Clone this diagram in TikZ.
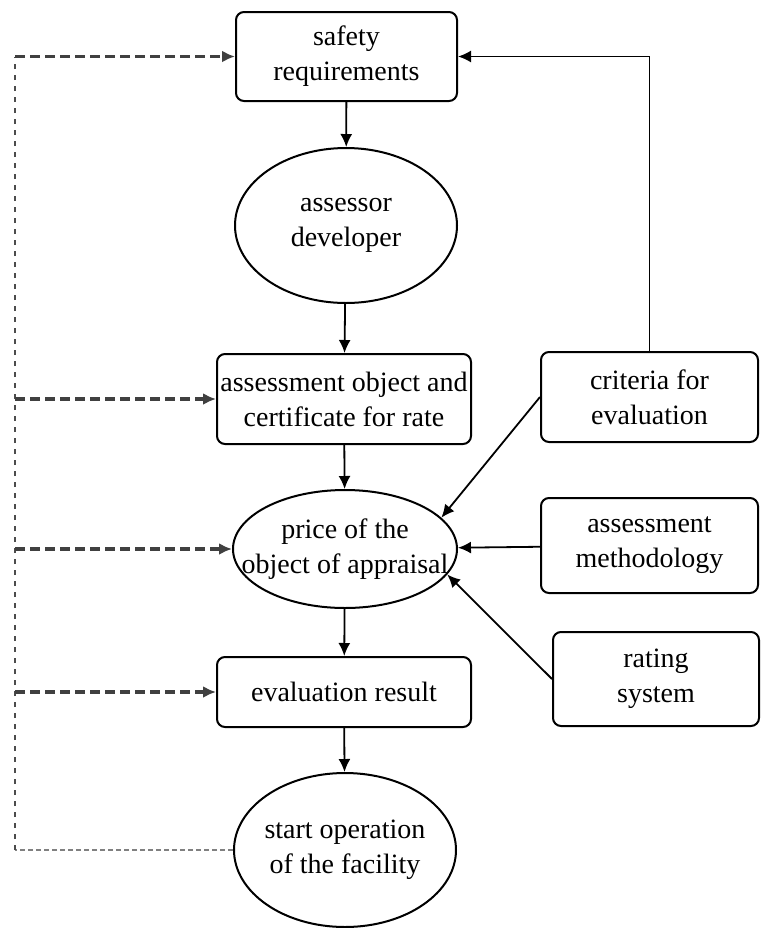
\documentclass[tikz,border=0pt]{standalone}
\usepackage{fontspec}
\setmainfont{Liberation Serif}
\usetikzlibrary{shapes.geometric,arrows.meta}

\tikzset{
  box/.style={rectangle, rounded corners=4pt, inner sep=0pt},
  oval/.style={ellipse, inner sep=-40pt},
  loopline/.style={dash pattern=on 2.5pt off 3pt, line width=0.9pt, draw=black!70},
  looparrow/.style={->, dash pattern=on 5pt off 2.5pt, line width=1.8pt, draw=black!75},
}

\begin{document}
\begin{tikzpicture}[x=0.5pt, y=-0.5pt, >={Latex[length=6.5pt,width=6pt]}]
  \useasboundingbox (0,0) rectangle (761,928);

  \begin{scope}[every node/.style={draw, line width=1pt, align=center,
      font=\fontsize{14}{17.5}\selectfont}]
    \node[box, minimum width=110.5pt, minimum height=44.5pt] (req)   at (346.5,56.5) {safety\\requirements};
    \node[oval, minimum width=111pt, minimum height=77.5pt]  (dev)   at (346,225.5)  {assessor\\developer};
    \node[box, minimum width=127pt, minimum height=45pt]     (obj)   at (344,399)    {assessment object and\\certificate for rate};
    \node[oval, minimum width=112pt, minimum height=59pt]    (price) at (345,549)    {price of the\\object of appraisal};
    \node[box, minimum width=127pt, minimum height=35pt]     (res)   at (344,692)    {evaluation result};
    \node[oval, minimum width=111pt, minimum height=77pt]    (start) at (345,850)    {start operation\\of the facility};
    \node[box, minimum width=108.5pt, minimum height=45pt]   (crit)  at (649.5,397)  {criteria for\\evaluation};
    \node[box, minimum width=108.5pt, minimum height=47.5pt] (meth)  at (649.5,545.5) {assessment\\methodology};
    \node[box, minimum width=103pt, minimum height=47pt]     (rate)  at (656,679)    {rating\\system};
  \end{scope}

  \coordinate (lt) at (15,56.5);
  \coordinate (lb) at (15,850);

  \begin{scope}[every edge/.style={draw, ->, line width=0.9pt}]
    \path (req)  edge (dev);
    \path (dev)  edge (obj);
    \path (obj)  edge (price);
    \path (price) edge (res);
    \path (res)  edge (start);
    \path (crit.west) edge (price.18);
    \path (meth) edge (price);
    \path (rate.west) edge (price.-14);
  \end{scope}
  \draw[->, line width=0.9pt] (crit.north) |- (req.east);

  % feedback loop
  \draw[loopline, draw=black!50, dash pattern=on 2.5pt off 1.5pt, line width=1.4pt] (start) -- (lb);
  \draw[loopline] (lb) -- (lt);
  \draw[looparrow] (lt) -- (req);
  \draw[looparrow] (lt |- obj) -- (obj);
  \draw[looparrow] (lt |- price) -- (price);
  \draw[looparrow] (lt |- res) -- (res);

\end{tikzpicture}
\end{document}
